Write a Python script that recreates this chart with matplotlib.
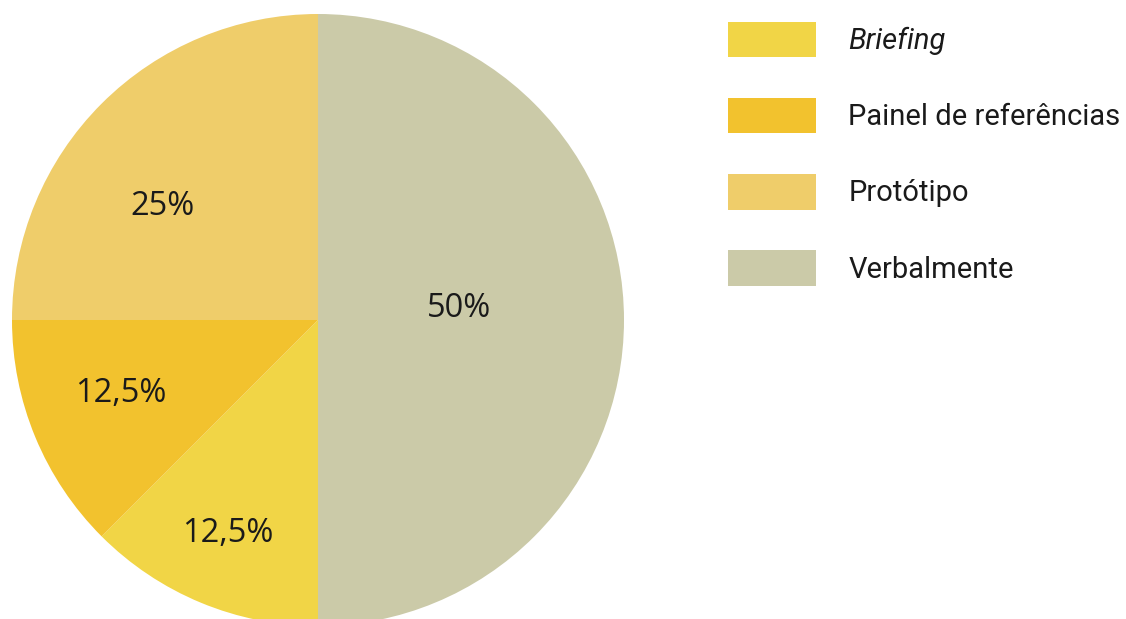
import numpy as np
import matplotlib.pyplot as plt

# dados do gráfico
categorias = ["Briefing", "Painel de referências", "Protótipo", "Verbalmente"]
valores = [12.5, 12.5, 25, 50]
rotulos = ["12,5%", "12,5%", "25%", "50%"]
cores = ["#F1D546", "#F2C22E", "#EFCD6A", "#CBCAA8"]
# posição dos rótulos: desvio de ângulo (graus) e distância ao centro
desvio_ang = [-0.7, -2.7, 8.1, 5.7]
dist_rotulo = [0.747, 0.684, 0.637, 0.463]

W, H = 1126, 619
cx, cy, r = 318, 320, 306

fig = plt.figure(figsize=(W / 100, H / 100), dpi=100)
ax = fig.add_axes([0, 0, 1, 1])
ax.axis('off')

wedges, _ = ax.pie(valores, colors=cores, startangle=270, counterclock=False,
                   radius=1, wedgeprops=dict(linewidth=0))
ax.set_xlim(-cx / r, (W - cx) / r)
ax.set_ylim(-(H - cy) / r, cy / r)
ax.set_aspect('auto')

for w, txt, da, d in zip(wedges, rotulos, desvio_ang, dist_rotulo):
    ang = np.deg2rad((w.theta1 + w.theta2) / 2 + da)
    ax.annotate(txt, (d * np.cos(ang), d * np.sin(ang)), xytext=(0, -2.2),
                textcoords='offset points', ha='center', va='center',
                fontsize=23.5, family='Open Sans', color='#1a1a1a')

leg = fig.legend(wedges, categorias, loc='upper left',
                 bbox_to_anchor=(728 / W, 1 - 22 / H), frameon=False,
                 borderpad=0, borderaxespad=0, handlelength=3.02,
                 handleheight=1.49, handletextpad=1.1, labelspacing=1.395,
                 prop={'family': 'Roboto', 'size': 21})
for t in leg.get_texts():
    t.set_color('#1a1a1a')
leg.get_texts()[0].set_style('italic')

fig.savefig('out.png', dpi=100)
